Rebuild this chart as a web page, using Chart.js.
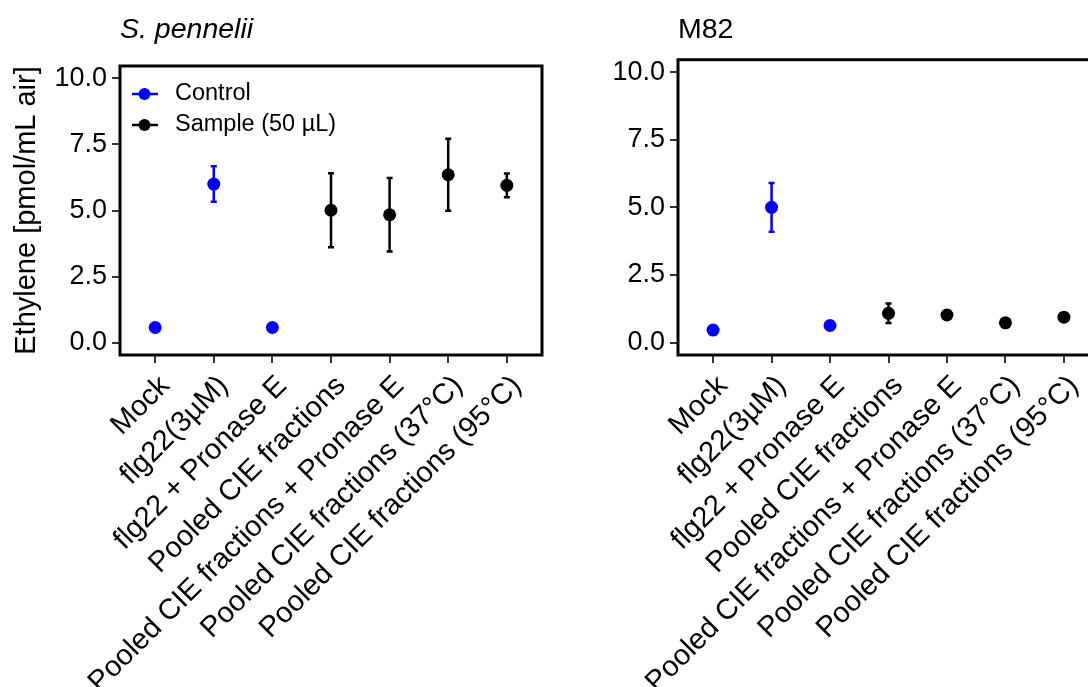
<!DOCTYPE html>
<html>
<head>
<meta charset="utf-8">
<script src="https://cdn.jsdelivr.net/npm/chart.js@4.4.1/dist/chart.umd.min.js"></script>
<style>
  html, body { margin: 0; padding: 0; background: #fff; overflow: hidden; width: 1088px; height: 687px; }
  #spennChart { position: absolute; left: 0; top: 0; }
  #m82Chart { position: absolute; left: 560px; top: 0; }
</style>
</head>
<body>
<canvas id="spennChart" width="560" height="687"></canvas>
<canvas id="m82Chart" width="560" height="687"></canvas>
<script>
// Categories (x axis), same for both panels
const categories = [
  "Mock",
  "flg22(3\u00b5M)",
  "flg22 + Pronase E",
  "Pooled CIE fractions",
  "Pooled CIE fractions + Pronase E",
  "Pooled CIE fractions (37\u00b0C)",
  "Pooled CIE fractions (95\u00b0C)"
];
const controlIdx = [0, 1, 2];
const sampleIdx = [3, 4, 5, 6];
const yTicks = [0, 2.5, 5, 7.5, 10];

// S. pennelii
const spennControlMean = [0.58, 6.0, 0.58];
const spennControlErr = [0, 0.67, 0];
const spennSampleMean = [5.01, 4.84, 6.35, 5.95];
const spennSampleErr = [1.4, 1.39, 1.36, 0.45];

// M82
const m82ControlMean = [0.46, 5.0, 0.63];
const m82ControlErr = [0, 0.9, 0];
const m82SampleMean = [1.08, 1.02, 0.73, 0.94];
const m82SampleErr = [0.36, 0, 0, 0];

Chart.defaults.font.family = "'Liberation Sans', Arial, sans-serif";
Chart.defaults.color = "#000";

function points(idx, means) {
  return idx.map((x, i) => ({ x: x, y: means[i] }));
}

// error bars drawn under the points
const errorBars = {
  id: "errorBars",
  beforeDatasetsDraw(chart) {
    const { ctx, scales: { x, y } } = chart;
    chart.data.datasets.forEach(ds => {
      ds.data.forEach((p, i) => {
        const e = ds.errors[i];
        if (!e) return;
        const px = x.getPixelForValue(p.x);
        const top = y.getPixelForValue(p.y + e);
        const bot = y.getPixelForValue(p.y - e);
        ctx.save();
        ctx.strokeStyle = ds.borderColor;
        ctx.lineWidth = 2.5;
        ctx.beginPath();
        ctx.moveTo(px, top); ctx.lineTo(px, bot);
        ctx.moveTo(px - 3, top); ctx.lineTo(px + 3, top);
        ctx.moveTo(px - 3, bot); ctx.lineTo(px + 3, bot);
        ctx.stroke();
        ctx.restore();
      });
    });
  }
};

// legend inside the top-left corner of the plot (line + dot, then label)
const insideLegend = {
  id: "insideLegend",
  afterDatasetsDraw(chart, args, opts) {
    if (!opts.display) return;
    const { ctx, chartArea: a } = chart;
    ctx.save();
    chart.data.datasets.forEach((ds, i) => {
      const x = a.left + opts.left;
      const y = a.top + opts.top + i * opts.rowHeight;
      ctx.strokeStyle = ds.borderColor;
      ctx.lineWidth = 2.5;
      ctx.beginPath(); ctx.moveTo(x, y); ctx.lineTo(x + 26, y); ctx.stroke();
      ctx.fillStyle = ds.backgroundColor;
      ctx.beginPath(); ctx.arc(x + 12.5, y, 6, 0, Math.PI * 2); ctx.fill();
      ctx.fillStyle = "#000";
      ctx.font = opts.fontSize + "px 'Liberation Sans', Arial, sans-serif";
      ctx.textBaseline = "middle";
      ctx.fillText(ds.label, x + 43, y);
    });
    ctx.restore();
  }
};

// black box round the plot area
const frame = {
  id: "frame",
  afterDraw(chart) {
    const { ctx, chartArea: a } = chart;
    ctx.save();
    ctx.strokeStyle = "#000";
    ctx.lineWidth = 3;
    ctx.strokeRect(a.left, a.top, a.right - a.left, a.bottom - a.top);
    ctx.restore();
  }
};

function makeChart(id, cfg) {
  const datasets = [
    {
      label: "Control",
      data: points(controlIdx, cfg.controlMean),
      errors: cfg.controlErr,
      borderColor: "#0000ff",
      backgroundColor: "#0000ff"
    },
    {
      label: "Sample (50 \u00b5L)",
      data: points(sampleIdx, cfg.sampleMean),
      errors: cfg.sampleErr,
      borderColor: "#000000",
      backgroundColor: "#000000"
    }
  ];
  return new Chart(document.getElementById(id), {
    type: "scatter",
    data: { datasets: datasets },
    options: {
      responsive: false,
      animation: false,
      layout: { padding: { left: 0, right: cfg.padRight, top: 0, bottom: 0 } },
      elements: { point: { radius: 6.5, borderWidth: 0, hoverRadius: 6.5 } },
      plugins: {
        title: {
          display: true,
          text: cfg.title,
          align: "start",
          fullSize: false,
          color: "#000",
          font: { size: 28.5, style: cfg.italic ? "italic" : "normal", weight: "normal" },
          padding: { top: 13, bottom: cfg.titleBottom }
        },
        legend: { display: false },
        insideLegend: { display: cfg.legend, left: 12, top: 28, rowHeight: 31, fontSize: 23.5 },
        tooltip: { enabled: false }
      },
      scales: {
        x: {
          type: "linear",
          min: -0.6,
          max: 6.6,
          afterBuildTicks: s => { s.ticks = categories.map((c, i) => ({ value: i })); },
          afterFit: s => { s.height = 332; },
          grid: { drawOnChartArea: false, tickLength: 8, tickColor: "#333", tickWidth: 2, lineWidth: 2 },
          border: { display: false },
          ticks: {
            autoSkip: false,
            minRotation: 45,
            maxRotation: 45,
            padding: 6,
            labelOffset: 10,
            color: "#000",
            font: { size: 29 },
            callback: v => categories[v]
          }
        },
        y: {
          min: -0.46,
          max: 10.46,
          afterBuildTicks: s => { s.ticks = yTicks.map(v => ({ value: v })); },
          afterFit: s => { s.width = cfg.yWidth; },
          grid: { drawOnChartArea: false, tickLength: 8, tickColor: "#333", tickWidth: 2, lineWidth: 2 },
          border: { display: false },
          title: {
            display: cfg.yTitle !== "",
            text: cfg.yTitle,
            color: "#000",
            font: { size: 29 },
            padding: { top: 10, bottom: 0 }
          },
          ticks: {
            padding: 5,
            color: "#000",
            font: { size: 27 },
            callback: v => v.toFixed(1)
          }
        }
      }
    },
    plugins: [errorBars, insideLegend, frame]
  });
}

makeChart("spennChart", {
  title: "S. pennelii", italic: true, titleBottom: 18.8, legend: true,
  yTitle: "Ethylene [pmol/mL air]", yWidth: 120, padRight: 18,
  controlMean: spennControlMean, controlErr: spennControlErr,
  sampleMean: spennSampleMean, sampleErr: spennSampleErr
});

makeChart("m82Chart", {
  title: "M82", italic: false, titleBottom: 12.5, legend: false,
  yTitle: "", yWidth: 118, padRight: 21,
  controlMean: m82ControlMean, controlErr: m82ControlErr,
  sampleMean: m82SampleMean, sampleErr: m82SampleErr
});
</script>
</body>
</html>
